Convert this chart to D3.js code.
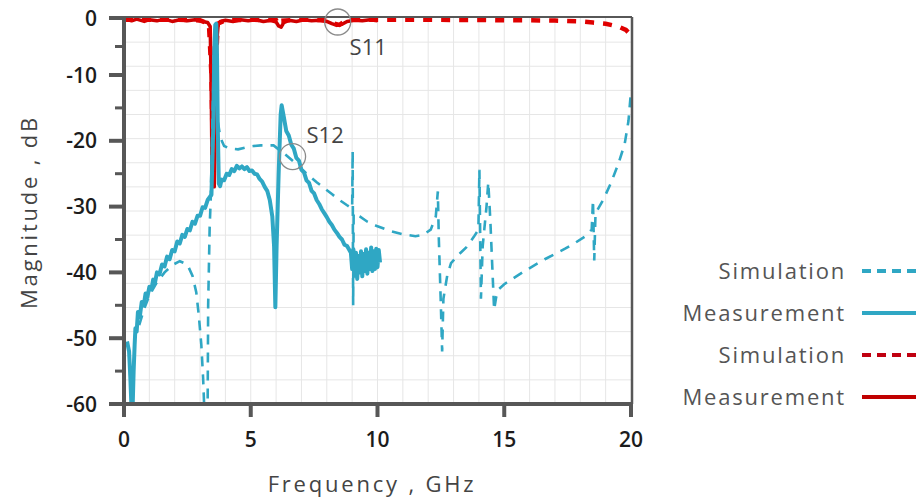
<!DOCTYPE html>
<html>
<head>
<meta charset="utf-8">
<script src="https://cdn.jsdelivr.net/npm/d3@7"></script>
<style>
  html, body { margin: 0; padding: 0; background: #fff; }
  svg { display: block; }
</style>
</head>
<body>
<svg id="chart" width="916" height="502"></svg>
<script>
// ---------- DATA ----------
const xTicks = [0, 5, 10, 15, 20];
const yTicks = [0, -10, -20, -30, -40, -50, -60];
const yMinorTicks = [-5, -15, -25, -35, -45, -55];

// S12 measurement (solid cyan)
const s12MeasFreq = [0.12,0.2,0.25,0.3,0.33,0.38,0.42,0.45,0.5,0.55,0.62,0.7,0.78,0.85,0.92,1.0,1.08,1.15,1.22,1.3,1.4,1.5,1.6,1.7,1.8,1.9,2.0,2.1,2.2,2.3,2.4,2.5,2.6,2.7,2.8,2.9,3.0,3.1,3.2,3.3,3.45,3.52,3.56,3.6,3.64,3.67,3.7,3.74,3.79,3.85,3.95,4.05,4.15,4.25,4.35,4.45,4.55,4.65,4.75,4.85,4.95,5.05,5.15,5.25,5.35,5.45,5.55,5.65,5.75,5.85,5.92,5.97,6.02,6.1,6.18,6.22,6.3,6.4,6.5,6.6,6.7,6.8,6.9,7.0,7.1,7.2,7.3,7.4,7.5,7.6,7.7,7.8,7.9,8.0,8.1,8.2,8.3,8.4,8.5,8.6,8.7,8.8,8.95,9.0,9.05,9.1,9.15,9.2,9.25,9.3,9.35,9.4,9.45,9.5,9.55,9.6,9.65,9.7,9.75,9.8,9.85,9.9,9.95,10.0,10.05,10.1];
const s12MeasVal  = [-50.5,-52,-56,-61,-62,-55,-51,-48.5,-49,-46,-46.8,-44.5,-45,-43.2,-43.8,-42.2,-42.6,-41.1,-41.6,-40.0,-40.3,-38.8,-39.1,-37.6,-38.0,-36.6,-36.8,-35.3,-35.6,-34.3,-34.6,-33.4,-33.6,-32.3,-32.6,-31.4,-31.4,-30.1,-30.2,-29.0,-28.2,-18,-6,-1.2,-1.0,-7,-18,-26.5,-26.9,-25.9,-26.0,-25.0,-25.2,-24.3,-24.6,-23.8,-24.2,-23.9,-24.3,-24.0,-24.6,-24.5,-25.0,-25.1,-25.8,-26.2,-27.0,-27.6,-29.0,-31.5,-36,-45.3,-36,-25,-16,-14.6,-16.3,-18.5,-19.2,-20.6,-21.2,-22.6,-23.0,-24.4,-24.8,-26.0,-26.4,-27.6,-28.0,-29.0,-29.6,-30.4,-31.0,-31.6,-32.3,-32.8,-33.5,-34.0,-34.6,-35.0,-35.8,-36.0,-37,-39.5,-36.5,-40.5,-37,-41,-37.5,-40,-36.8,-40.6,-37.2,-39.8,-36.5,-40.2,-37,-39.5,-36.2,-39.8,-36.8,-39.5,-36.4,-39.2,-36.6,-38.5];

// S12 simulation (dashed cyan)
const s12SimFreq = [0.6,0.8,1.0,1.3,1.6,1.9,2.2,2.5,2.7,2.85,2.95,3.05,3.12,3.18,3.22,3.28,3.32,3.38,3.42,3.5,3.58,3.64,3.7,3.8,3.95,4.2,4.5,4.8,5.1,5.4,5.7,5.9,6.1,6.4,6.7,7.0,7.3,7.6,7.9,8.2,8.5,8.8,9.0,9.02,9.04,9.06,9.3,9.6,10.0,10.5,11.0,11.5,11.8,12.1,12.3,12.38,12.42,12.5,12.55,12.6,12.75,12.9,13.2,13.5,13.8,13.98,14.02,14.08,14.15,14.3,14.37,14.45,14.6,14.68,14.8,15.0,15.4,15.8,16.2,16.6,17.0,17.4,17.8,18.2,18.45,18.5,18.55,18.6,18.9,19.2,19.5,19.75,19.9,20.0];
const s12SimVal  = [-48,-45.5,-43.5,-41.5,-40,-38.9,-38.3,-38.8,-40.5,-43,-46.5,-51,-56,-62,-75,-75,-45,-33,-29,-15,-1.5,-10,-17,-19.5,-20.8,-21.2,-21.3,-21.0,-20.8,-20.7,-20.7,-20.7,-21.3,-22.2,-23.2,-24.3,-25.3,-26.3,-27.2,-28.1,-29,-29.8,-30.3,-21.6,-45,-31,-31.5,-32.3,-33.0,-33.7,-34.2,-34.5,-34.3,-33.5,-31.5,-27.7,-35,-45,-52,-44,-40.5,-38.6,-37.3,-36.2,-34.6,-33.5,-24.4,-44,-36,-30,-26.3,-32,-45.7,-43.8,-42.5,-41.8,-40.8,-39.8,-38.9,-38.0,-37.2,-36.4,-35.5,-34.5,-33.5,-29,-38.2,-31,-29,-26.5,-23.5,-20.5,-17,-12.5];

// S11 measurement (solid red)
const s11MeasFreq = [0.05,0.3,0.5,0.8,1.0,1.3,1.6,1.9,2.2,2.5,2.8,3.1,3.3,3.4,3.44,3.48,3.56,3.62,3.66,3.72,3.8,4.0,4.3,4.6,4.9,5.2,5.5,5.8,6.0,6.1,6.2,6.3,6.5,6.8,7.1,7.4,7.7,8.0,8.2,8.4,8.6,8.8,9.1,9.4,9.7,10.0];
const s11MeasVal  = [-0.2,-0.5,-0.2,-0.6,-0.3,-0.5,-0.2,-0.6,-0.3,-0.5,-0.3,-0.6,-0.8,-1.5,-12,-27,-27,-14,-4,-1.0,-0.6,-0.4,-0.6,-0.3,-0.5,-0.3,-0.6,-0.4,-0.7,-1.4,-1.6,-0.8,-0.4,-0.6,-0.3,-0.5,-0.4,-0.6,-1.0,-1.3,-1.1,-0.6,-0.4,-0.5,-0.3,-0.5];

// S11 simulation (dashed red)
const s11SimFreq = [0,1,2,3,3.35,3.45,3.52,3.6,3.7,4,5,6,6.1,6.2,7,8,8.3,8.5,8.7,9,10,11,12,13,14,15,16,17,18,18.5,19,19.5,19.8,20];
const s11SimVal  = [-0.3,-0.3,-0.3,-0.4,-1,-10,-26,-10,-1,-0.4,-0.3,-0.4,-1.2,-0.5,-0.3,-0.4,-1.0,-1.2,-0.6,-0.3,-0.3,-0.3,-0.3,-0.35,-0.35,-0.4,-0.4,-0.45,-0.6,-0.8,-1.0,-1.5,-2.1,-3.0];

const legendLabels = ["Simulation", "Measurement", "Simulation", "Measurement"];
const xTitle = "Frequency , GHz";
const yTitle = "Magnitude , dB";

// ---------- LAYOUT ----------
const svg = d3.select("#chart");
const pLeft = 124, pRight = 631, pTop = 18, pBottom = 404;

const x = d3.scaleLinear().domain([0, 20]).range([pLeft, pRight]);
const y = d3.scaleLinear().domain([-60, -10, 0]).range([pBottom, 75, pTop]);

const CYAN = "#2fa7c4";
const RED = "#cf0000";
const RED_DASH = "#e00000";
const AXIS = "#575757";
const FONT = "Open Sans, DejaVu Sans, sans-serif";

// grid
const g = svg.append("g");
g.selectAll("line.vg").data(d3.range(1, 20)).join("line")
  .attr("x1", d => x(d)).attr("x2", d => x(d))
  .attr("y1", pTop).attr("y2", pBottom)
  .attr("stroke", "#e6e6e6").attr("stroke-width", 1);
g.selectAll("line.hg").data(d3.range(1, 16)).join("line")
  .attr("x1", pLeft).attr("x2", pRight)
  .attr("y1", d => pTop + (pBottom - pTop) * d / 16).attr("y2", d => pTop + (pBottom - pTop) * d / 16)
  .attr("stroke", "#e6e6e6").attr("stroke-width", 1);

// clip
svg.append("clipPath").attr("id", "clip").append("rect")
  .attr("x", pLeft).attr("y", pTop - 6).attr("width", pRight - pLeft + 4).attr("height", pBottom - pTop + 6);

const line = d3.line().x(d => x(d[0])).y(d => y(d[1]));
const zipped = (f, v) => f.map((d, i) => [d, v[i]]);

const plot = svg.append("g").attr("clip-path", "url(#clip)");

plot.append("path").datum(zipped(s11MeasFreq, s11MeasVal))
  .attr("d", line).attr("fill", "none").attr("stroke", RED).attr("stroke-width", 3.5)
  .attr("stroke-linejoin", "round");
plot.append("path").datum(zipped(s11SimFreq, s11SimVal))
  .attr("d", line).attr("fill", "none").attr("stroke", RED_DASH).attr("stroke-width", 4.5)
  .attr("stroke-dasharray", "9,9");
plot.append("path").datum(zipped(s12SimFreq, s12SimVal))
  .attr("d", line).attr("fill", "none").attr("stroke", CYAN).attr("stroke-width", 2.6)
  .attr("stroke-dasharray", "10,8");
plot.append("path").datum(zipped(s12MeasFreq, s12MeasVal))
  .attr("d", line).attr("fill", "none").attr("stroke", CYAN).attr("stroke-width", 4)
  .attr("stroke-linejoin", "round");

// frame
svg.append("line").attr("x1", pLeft).attr("x2", pRight + 1).attr("y1", pTop - 1).attr("y2", pTop - 1)
  .attr("stroke", AXIS).attr("stroke-width", 2);
svg.append("line").attr("x1", pRight + 1).attr("x2", pRight + 1).attr("y1", pTop - 1).attr("y2", pBottom)
  .attr("stroke", AXIS).attr("stroke-width", 2.5);

// y axis
const yAxis = svg.append("g");
yAxis.append("line").attr("x1", pLeft).attr("x2", pLeft).attr("y1", pTop - 2).attr("y2", pBottom + 2)
  .attr("stroke", AXIS).attr("stroke-width", 4);
yAxis.selectAll("line.maj").data(yTicks).join("line")
  .attr("x1", pLeft - 15).attr("x2", pLeft).attr("y1", d => y(d)).attr("y2", d => y(d))
  .attr("stroke", AXIS).attr("stroke-width", 4);
yAxis.selectAll("line.min").data(yMinorTicks).join("line")
  .attr("x1", pLeft - 9).attr("x2", pLeft).attr("y1", d => y(d)).attr("y2", d => y(d))
  .attr("stroke", AXIS).attr("stroke-width", 3);
yAxis.selectAll("text").data(yTicks).join("text")
  .attr("x", 97).attr("y", d => y(d)).attr("dy", "0.36em")
  .attr("text-anchor", "end")
  .attr("font-family", FONT).attr("font-size", 21).attr("font-weight", 600)
  .attr("fill", "#1c1c1c").text(d => d);

// x axis
const xAxis = svg.append("g");
xAxis.append("line").attr("x1", pLeft - 2).attr("x2", pRight + 2).attr("y1", pBottom).attr("y2", pBottom)
  .attr("stroke", AXIS).attr("stroke-width", 4);
xAxis.selectAll("line.maj").data(xTicks).join("line")
  .attr("x1", d => x(d)).attr("x2", d => x(d)).attr("y1", pBottom).attr("y2", pBottom + 13)
  .attr("stroke", AXIS).attr("stroke-width", 4);
xAxis.selectAll("text").data(xTicks).join("text")
  .attr("x", d => x(d)).attr("y", 447)
  .attr("text-anchor", "middle")
  .attr("font-family", FONT).attr("font-size", 21).attr("font-weight", 600)
  .attr("fill", "#1c1c1c").text(d => d);

// axis titles
svg.append("text").attr("x", 372).attr("y", 492).attr("text-anchor", "middle")
  .attr("font-family", FONT).attr("font-size", 22).attr("font-weight", 500)
  .attr("letter-spacing", 2.8).attr("fill", "#444").text(xTitle);
svg.append("text").attr("transform", "translate(37,212) rotate(-90)").attr("text-anchor", "middle")
  .attr("font-family", FONT).attr("font-size", 22).attr("font-weight", 500)
  .attr("letter-spacing", 2.8).attr("fill", "#444").text(yTitle);

// annotations
const ann = [
  {f: 8.43, v: -0.7, label: "S11", lx: 8.9, lv: -6.5},
  {f: 6.65, v: -22.4, label: "S12", lx: 7.2, lv: -20.3}
];
ann.forEach(a => {
  svg.append("circle").attr("cx", x(a.f)).attr("cy", y(a.v)).attr("r", 13)
    .attr("fill", "none").attr("stroke", "#8a8a8a").attr("stroke-width", 1.3);
  svg.append("text").attr("x", x(a.lx)).attr("y", y(a.lv))
    .attr("font-family", FONT).attr("font-size", 22).attr("font-weight", 500)
    .attr("fill", "#444").text(a.label);
});

// legend
const legendStyles = [
  {color: CYAN, dash: "9,6"},
  {color: CYAN, dash: null},
  {color: "#c00010", dash: "9,6"},
  {color: "#c00000", dash: null}
];
const leg = svg.append("g");
legendLabels.forEach((t, i) => {
  const ly = 271 + i * 42;
  leg.append("text").attr("x", 846).attr("y", ly).attr("dy", "0.35em").attr("text-anchor", "end")
    .attr("font-family", FONT).attr("font-size", 22)
    .attr("letter-spacing", 1.8).attr("fill", "#555").text(t);
  leg.append("line").attr("x1", 862).attr("x2", 916).attr("y1", ly).attr("y2", ly)
    .attr("stroke", legendStyles[i].color).attr("stroke-width", 4)
    .attr("stroke-dasharray", legendStyles[i].dash);
});
</script>
</body>
</html>
